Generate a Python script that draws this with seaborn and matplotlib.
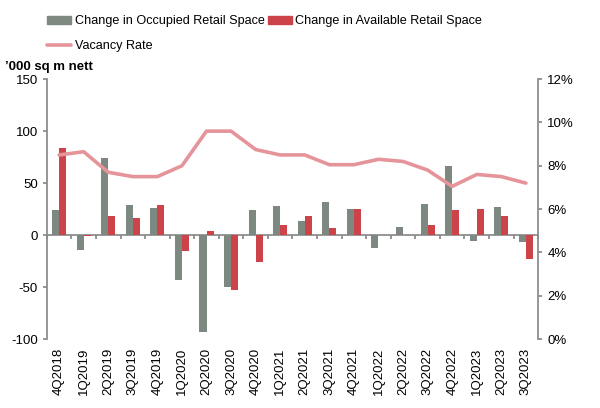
import numpy as np
import pandas as pd
import matplotlib
matplotlib.use('Agg')
import matplotlib.pyplot as plt
import seaborn as sns
from matplotlib.lines import Line2D
from matplotlib.patches import Patch
from matplotlib.ticker import FuncFormatter

quarters = ['4Q2018', '1Q2019', '2Q2019', '3Q2019', '4Q2019', '1Q2020', '2Q2020',
            '3Q2020', '4Q2020', '1Q2021', '2Q2021', '3Q2021', '4Q2021', '1Q2022',
            '2Q2022', '3Q2022', '4Q2022', '1Q2023', '2Q2023', '3Q2023']
occupied = [24, -14, 74, 29, 26, -43, -93, -50, 24, 28, 14, 32, 25, -12, 8, 30, 66, -6, 27, -7]
available = [84, -1, 18, 16, 29, -15, 3.5, -53, -26, 10, 18, 7, 25, 0, 0, 10, 24, 25, 18, -23]
vacancy = [8.5, 8.65, 7.7, 7.5, 7.5, 8.0, 9.6, 9.6, 8.75, 8.5, 8.5, 8.05, 8.05, 8.3,
           8.2, 7.8, 7.05, 7.6, 7.5, 7.2]

occ_label = 'Change in Occupied Retail Space'
avail_label = 'Change in Available Retail Space'
grey = '#7d8880'
red = '#cc4449'
pink = '#e5949a'
axis_grey = '#8a8a8a'

df = pd.DataFrame({'quarter': quarters * 2,
                   'value': occupied + available,
                   'series': [occ_label] * len(quarters) + [avail_label] * len(quarters)})

sns.set_theme(style='white')
plt.rcParams['font.family'] = ['Liberation Sans', 'DejaVu Sans']
plt.rcParams['axes.unicode_minus'] = False
plt.rcParams['text.color'] = 'black'
plt.rcParams['xtick.color'] = 'black'
plt.rcParams['ytick.color'] = 'black'

fig = plt.figure(figsize=(6, 4.08), dpi=100)
ax = fig.add_axes([0.078, 0.169, 0.819, 0.637])

sns.barplot(data=df, x='quarter', y='value', hue='series', palette=[grey, red],
            width=0.58, ax=ax, legend=False, saturation=1, linewidth=0)
ax.set_xlim(-0.5, len(quarters) - 0.5)
ax.set_ylim(-100, 150)
ax.set_yticks([-100, -50, 0, 50, 100, 150])
ax.set_xlabel('')
ax.set_ylabel('')
ax.tick_params(axis='x', labelrotation=90, length=0, labelsize=9.5, pad=6)
ax.tick_params(axis='y', length=3, color=axis_grey, labelsize=9.5, left=True)
for s in ['top', 'bottom', 'right']:
    ax.spines[s].set_visible(False)
ax.spines['left'].set_color(axis_grey)

# zero line with category-boundary ticks
zero_axis = ax.secondary_xaxis(100 / 250)
zero_axis.set_xticks(np.arange(-0.5, len(quarters), 1))
zero_axis.tick_params(axis='x', length=3, color=axis_grey, labelbottom=False,
                      labeltop=False, bottom=True, top=False, direction='out')
zero_axis.spines['bottom'].set_color(axis_grey)
zero_axis.spines['top'].set_visible(False)
zero_axis.xaxis.set_ticks_position('bottom')
zero_axis.set_xticklabels([])

ax2 = ax.twinx()
sns.lineplot(x=np.arange(len(quarters)), y=vacancy, color=pink, lw=2.6, ax=ax2)
ax2.set_ylim(0, 12)
ax2.set_yticks(range(0, 13, 2))
ax2.yaxis.set_major_formatter(FuncFormatter(lambda v, p: f'{v:.0f}%'))
ax2.tick_params(axis='y', length=3, color=axis_grey, labelsize=9.5, right=True)
for s in ['top', 'bottom', 'left']:
    ax2.spines[s].set_visible(False)
ax2.spines['right'].set_color(axis_grey)

handles = [Patch(color=grey, label=occ_label),
           Line2D([], [], color=pink, lw=2.6, label='Vacancy Rate'),
           Patch(color=red, label=avail_label)]
fig.legend(handles=handles, ncol=2, loc='upper left', bbox_to_anchor=(0.06, 0.99),
           frameon=False, fontsize=9.1, handlelength=1.9, handleheight=0.5,
           handletextpad=0.25, columnspacing=0.25, labelspacing=1.0)

fig.text(0.008, 0.828, "\u2019000 sq m nett", fontsize=9.5, fontweight='bold')

fig.savefig('out.png', dpi=100)
